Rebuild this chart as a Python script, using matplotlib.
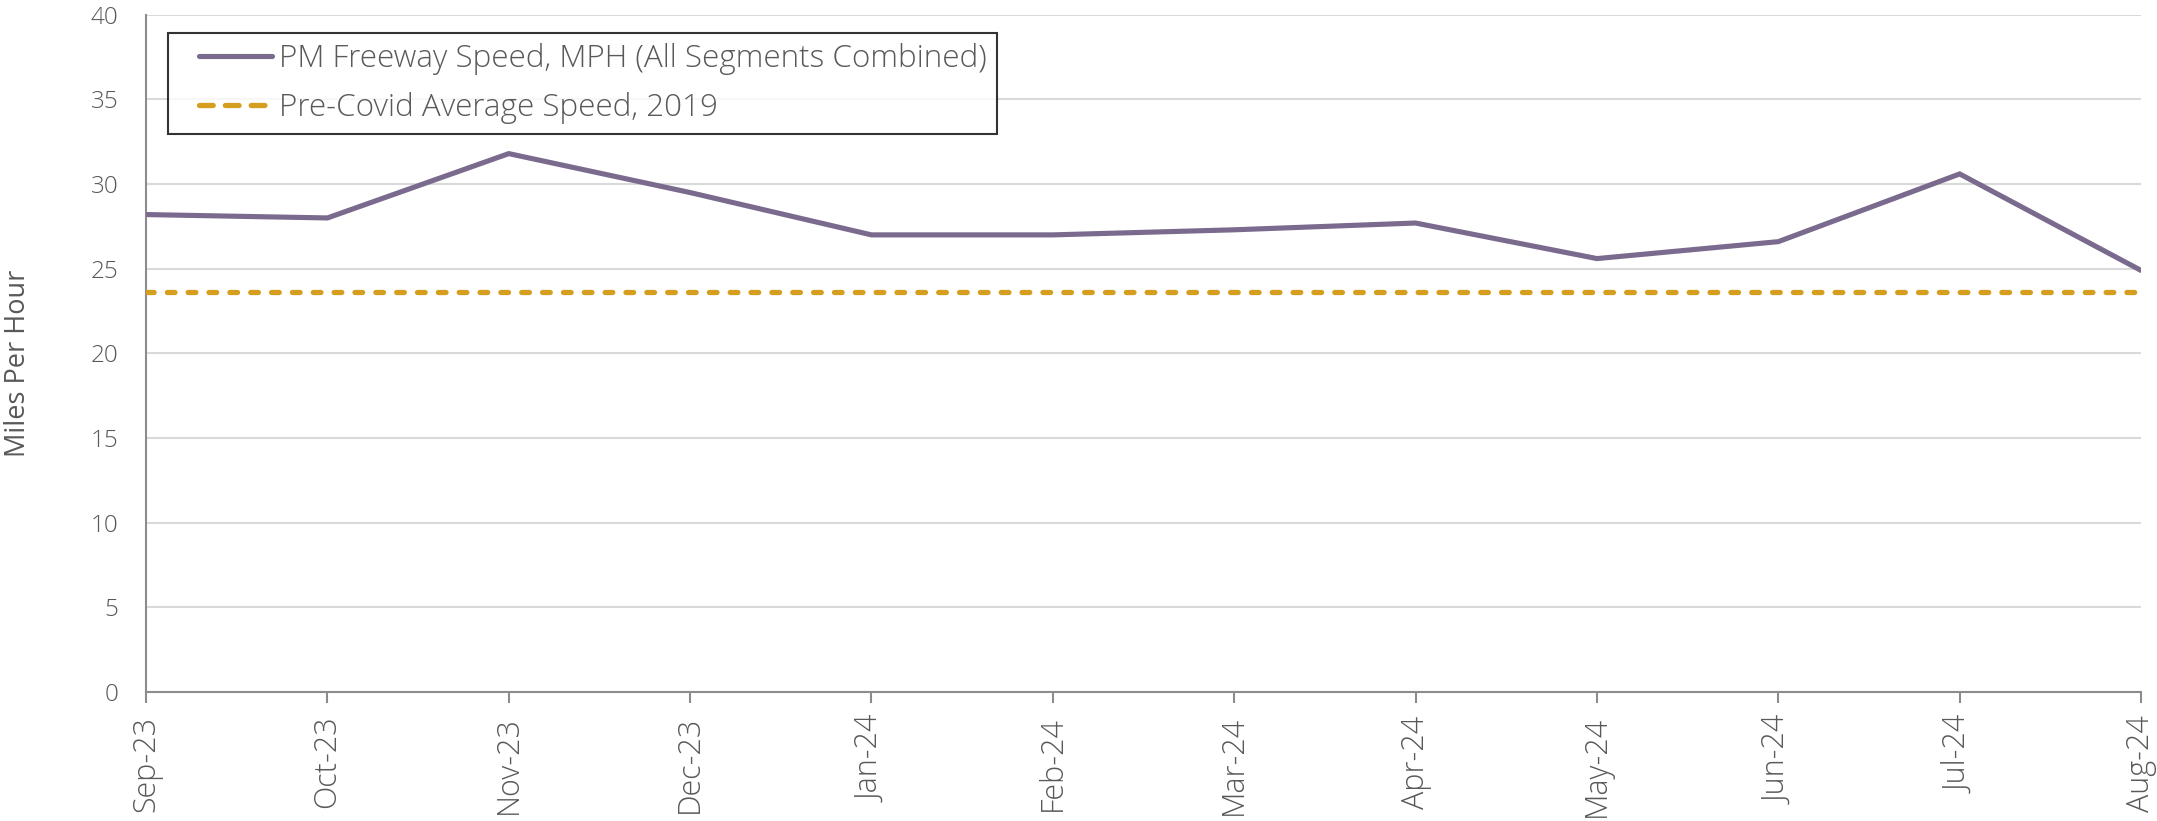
import matplotlib
matplotlib.use("Agg")
import matplotlib.pyplot as plt
from matplotlib.lines import Line2D
from matplotlib.legend_handler import HandlerLine2D

months = ["Sep-23", "Oct-23", "Nov-23", "Dec-23", "Jan-24", "Feb-24",
          "Mar-24", "Apr-24", "May-24", "Jun-24", "Jul-24", "Aug-24"]
pm_speed = [28.2, 28.0, 31.8, 29.5, 27.0, 27.0, 27.3, 27.7, 25.6, 26.6, 30.6, 24.9]
precovid_speed = 23.6
yticks = [0, 5, 10, 15, 20, 25, 30, 35, 40]

plt.rcParams['font.family'] = ['Open Sans', 'DejaVu Sans']
plt.rcParams['font.weight'] = 'light'
text_col = "#595959"
purple = "#7a6b8e"
gold = "#d69e1f"

fig = plt.figure(figsize=(21.57, 8.21), dpi=100)
ax = fig.add_axes([0.0677, 0.1571, 0.9926 - 0.0677, 0.982 - 0.1571])

x = list(range(len(months)))
ax.plot(x, pm_speed, color=purple, lw=3.7, solid_joinstyle="miter",
        solid_capstyle="round", zorder=3)
ax.plot(x, [precovid_speed] * len(x), color=gold, lw=3.8,
        dashes=(1.45, 2.5), dash_capstyle="round", zorder=3)

ax.set_xlim(0, len(months) - 1)
ax.set_ylim(0, 40)
ax.set_yticks(yticks)
ax.set_xticks(x)
ax.set_xticklabels(months, rotation=90)
ax.grid(axis="y", color="#d9d9d9", lw=1.5)
ax.set_axisbelow(True)

for s in ["top", "right"]:
    ax.spines[s].set_visible(False)
for s in ["left", "bottom"]:
    ax.spines[s].set_color("#8c8c8c")
    ax.spines[s].set_linewidth(1.5)

ax.tick_params(axis="x", length=8, width=1.5, color="#8c8c8c",
               labelsize=22, labelcolor=text_col, pad=9)
ax.tick_params(axis="y", length=0, labelsize=17.5, labelcolor=text_col, pad=20)
ax.set_ylabel("Miles Per Hour", fontsize=19.5, color=text_col)
ax.yaxis.set_label_coords(-0.0572, 0.485)

# legend proxies (legend dashes are drawn longer, as in the original)
h1 = Line2D([], [], color=purple, lw=3.7, solid_capstyle="round")
h2 = Line2D([], [], color=gold, lw=3.8, dashes=(2.6, 2.3),
            dash_capstyle="round")
hm = {h1: HandlerLine2D(xpad=0.65), h2: HandlerLine2D(xpad=0.65)}
leg = ax.legend([h1, h2],
                ["PM Freeway Speed, MPH (All Segments Combined)",
                 "Pre-Covid Average Speed, 2019"],
                loc="upper left", bbox_to_anchor=(0.011, 0.973), fontsize=22.6,
                frameon=True, fancybox=False, edgecolor="black",
                handlelength=3.0, handletextpad=0.2, borderpad=0.33,
                labelspacing=0.52, borderaxespad=0, handler_map=hm)
leg.get_frame().set_linewidth(1.5)
for t in leg.get_texts():
    t.set_color(text_col)

fig.savefig("out.png", dpi=100)
